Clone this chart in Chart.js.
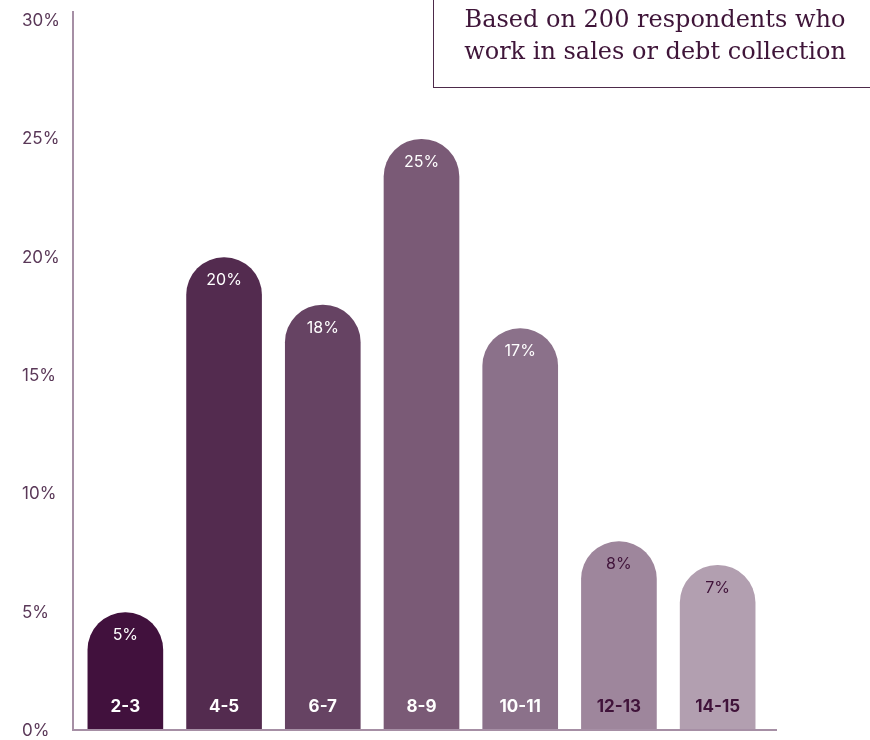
<!DOCTYPE html>
<html>
<head>
<meta charset="utf-8">
<script src="https://cdn.jsdelivr.net/npm/chart.js@4/dist/chart.umd.min.js"></script>
<style>
  html, body { margin: 0; padding: 0; background: #ffffff; }
  #wrap { position: relative; width: 870px; height: 740px; }
  #note {
    position: absolute; left: 433px; top: 0; width: 437px; height: 88px;
    border-left: 1.5px solid #4d2a4a; border-bottom: 1.5px solid #4d2a4a;
    box-sizing: border-box; padding: 3px 0 0 6px;
    font-family: "DejaVu Serif", serif; font-size: 24px; line-height: 32px;
    color: #3f1539; text-align: center;
  }
</style>
</head>
<body>
<div id="wrap">
  <canvas id="ageChart" width="870" height="740"></canvas>
  <div id="note">Based on 200 respondents who<br>work in sales or debt collection</div>
</div>
<script>
// Age groups and share of respondents (%)
const ageGroups = ["2-3", "4-5", "6-7", "8-9", "10-11", "12-13", "14-15"];
const shares = [5, 20, 18, 25, 17, 8, 7];
const yTicks = [0, 5, 10, 15, 20, 25, 30];

const barColors = ["#41113d", "#532b4f", "#664363", "#7a5a76", "#8b718a", "#9e869c", "#b29fb0"];
const labelColors = ["#ffffff", "#ffffff", "#ffffff", "#ffffff", "#ffffff", "#40133a", "#40133a"];

// Axis lines, drawn a bit past the chart area like the print version
const axisLines = {
  id: "axisLines",
  afterDraw(chart) {
    const { ctx, chartArea } = chart;
    ctx.save();
    ctx.strokeStyle = "#a68fa5";
    ctx.lineWidth = 2;
    ctx.beginPath();
    ctx.moveTo(chartArea.left - 3, chartArea.top - 10);
    ctx.lineTo(chartArea.left - 3, chartArea.bottom);
    ctx.moveTo(chartArea.left - 4, chartArea.bottom - 1);
    ctx.lineTo(chartArea.right + 10, chartArea.bottom - 1);
    ctx.stroke();
    ctx.restore();
  },
};

// Value on top and age group at the foot of every bar
const barLabels = {
  id: "barLabels",
  afterDatasetsDraw(chart) {
    const { ctx } = chart;
    const meta = chart.getDatasetMeta(0);
    ctx.save();
    ctx.textAlign = "center";
    ctx.textBaseline = "middle";
    meta.data.forEach((bar, i) => {
      ctx.fillStyle = labelColors[i];
      ctx.font = "16px Inter";
      ctx.fillText(shares[i] + "%", bar.x, bar.y + 23);
      ctx.font = "bold 17px Inter";
      ctx.fillText(ageGroups[i], bar.x, bar.base - 24);
    });
    ctx.restore();
  },
};

const ctx = document.getElementById("ageChart").getContext("2d");
new Chart(ctx, {
  type: "bar",
  data: {
    labels: ageGroups,
    datasets: [
      {
        data: shares,
        backgroundColor: barColors,
        barThickness: 75,
        borderRadius: { topLeft: 38, topRight: 38, bottomLeft: 0, bottomRight: 0 },
        borderSkipped: false,
      },
    ],
  },
  options: {
    responsive: false,
    animation: false,
    layout: {
      padding: { left: 22, right: 103, top: 21, bottom: 9 },
    },
    plugins: {
      legend: { display: false },
      tooltip: { enabled: false },
    },
    scales: {
      x: {
        afterFit(scale) {
          scale.height = 0;
        },
        grid: { display: false },
        border: { display: false },
        ticks: { display: false },
      },
      y: {
        min: 0,
        max: 30,
        afterBuildTicks(scale) {
          scale.ticks = yTicks.map((v) => ({ value: v }));
        },
        afterFit(scale) {
          scale.width = 54;
          scale.paddingTop = 0;
          scale.paddingBottom = 0;
        },
        grid: { display: false },
        border: { display: false },
        ticks: {
          crossAlign: "far",
          color: "#5a3858",
          font: { family: "Inter", size: 17 },
          callback: (v) => v + "%",
        },
      },
    },
  },
  plugins: [axisLines, barLabels],
});
</script>
</body>
</html>
